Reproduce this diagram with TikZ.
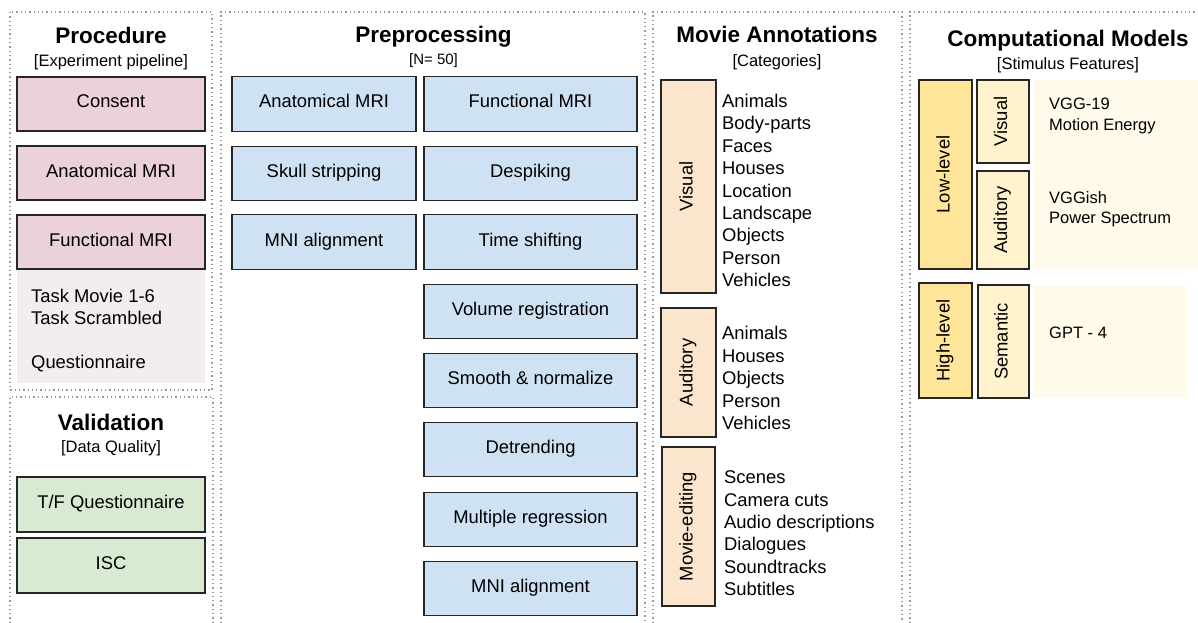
\documentclass[tikz,border=0pt]{standalone}
\usepackage{fontspec}
\setmainfont{Liberation Sans}
\definecolor{pinkbox}{HTML}{EAD1DC}
\definecolor{pinkbg}{HTML}{F3EDEF}
\definecolor{bluebox}{HTML}{CFE2F3}
\definecolor{greenbox}{HTML}{D9EAD3}
\definecolor{peachbox}{HTML}{FCE5CD}
\definecolor{yellowdark}{HTML}{FFE599}
\definecolor{yellowlight}{HTML}{FFF2CC}
\definecolor{yellowbg}{HTML}{FFFAEA}
\definecolor{dotgray}{HTML}{9A9A9A}
\begin{document}
\begin{tikzpicture}[x=1pt,y=-1pt,
  panel/.style={draw=dotgray, line width=1.3pt, dash pattern=on 1.3pt off 3pt},
  box/.style={draw=black!85, line width=1.1pt, inner sep=0pt, text height=13.5pt, text depth=5.5pt, font=\fontsize{18.4}{22}\selectfont},
  pbox/.style={box, fill=pinkbox, minimum width=188, minimum height=54},
  gbox/.style={box, fill=greenbox, minimum width=188, minimum height=55},
  blbox/.style={box, fill=bluebox, minimum width=184, minimum height=54.5},
  brbox/.style={box, fill=bluebox, minimum width=213, minimum height=54.5},
  mbox/.style={box, fill=peachbox, rotate=90, minimum height=55},
  lowbox/.style={box, fill=yellowdark, rotate=90, minimum height=53},
  subbox/.style={box, fill=yellowlight, rotate=90, minimum height=52},
  bg/.style={inner sep=0pt, draw=none},
  title/.style={font=\fontsize{22.5}{26}\selectfont\bfseries, anchor=base, inner sep=0pt},
  subtitle/.style={font=\fontsize{16.5}{20}\selectfont, anchor=base, inner sep=0pt},
  item/.style={font=\fontsize{18.4}{22}\selectfont, anchor=base west, inner sep=0pt},
  citem/.style={font=\fontsize{16.5}{20}\selectfont, anchor=base west, inner sep=0pt}
]
\useasboundingbox (0,0) rectangle (1198,623);

% ---------- panels ----------
\draw[panel] (10,12) rectangle (212,390);
\draw[panel] (10,623) -- (10,397) -- (213,397) -- (213,623);
\draw[panel] (221,623) -- (221,12) -- (645,12) -- (645,623);
\draw[panel] (653,623) -- (653,12) -- (902,12) -- (902,623);
\draw[panel] (910,623) -- (910,12) -- (1198,12);

% ---------- Procedure ----------
\node[title] (proct) at (111,44) {Procedure};
\node[subtitle] (procs) at (111,67) {[Experiment pipeline]};
\node[bg, fill=pinkbg, minimum width=188, minimum height=114] (procbg) at (111,326) {};
\node[pbox] (consent) at (111,104) {Consent};
\node[pbox] (panat) at (111,173) {Anatomical MRI};
\node[pbox] (pfunc) at (111,242) {Functional MRI};
\node[item] (task1) at (31,302) {Task Movie 1-6};
\node[item] (task2) at (31,324) {Task Scrambled};
\node[item] (quest) at (31,368) {Questionnaire};

% ---------- Validation ----------
\node[title] (valt) at (111,430) {Validation};
\node[subtitle] (vals) at (111,452) {[Data Quality]};
\node[gbox] (tfq) at (111,504.5) {T/F Questionnaire};
\node[gbox] (isc) at (111,565.5) {ISC};

% ---------- Preprocessing ----------
\node[title] (pret) at (433.5,43) {Preprocessing};
\node[subtitle, font=\fontsize{15}{18}\selectfont] (pres) at (433.5,65) {[N= 50]};
\node[blbox] (anat) at (324,104) {Anatomical MRI};
\node[blbox] (skull) at (324,173.5) {Skull stripping};
\node[blbox] (mnia) at (324,242) {MNI alignment};
\node[brbox] (func) at (530.5,104) {Functional MRI};
\node[brbox] (desp) at (530.5,173.5) {Despiking};
\node[brbox] (tshift) at (530.5,242) {Time shifting};
\node[brbox] (volreg) at (530.5,311.5) {Volume registration};
\node[brbox] (smooth) at (530.5,380.5) {Smooth \& normalize};
\node[brbox] (detr) at (530.5,449.5) {Detrending};
\node[brbox] (mreg) at (530.5,519.5) {Multiple regression};
\node[brbox] (mnif) at (530.5,588.5) {MNI alignment};

% ---------- Movie Annotations ----------
\node[title] (movt) at (777,43) {Movie Annotations};
\node[subtitle] (movs) at (777,67) {[Categories]};
\node[mbox, minimum width=213] (mvis) at (688.5,186.5) {Visual};
\node[mbox, minimum width=129] (maud) at (688.5,372.5) {Auditory};
\node[mbox, minimum width=159, minimum height=53] (medit) at (688.5,526.5) {Movie-editing};
\foreach \t [count=\i] in {Animals,Body-parts,Faces,Houses,Location,Landscape,Objects,Person,Vehicles}
  \node[item] (mv\i) at (722,{107.6+22.375*(\i-1)}) {\t};
\foreach \t [count=\i] in {Animals,Houses,Objects,Person,Vehicles}
  \node[item] (ma\i) at (722,{339.6+22.5*(\i-1)}) {\t};
\foreach \t [count=\i] in {Scenes,Camera cuts,Audio descriptions,Dialogues,Soundtracks,Subtitles}
  \node[item] (me\i) at (724,{483.6+22.4*(\i-1)}) {\t};

% ---------- Computational Models ----------
\node[title] (cmt) at (1068,47) {Computational Models};
\node[subtitle] (cms) at (1068,70) {[Stimulus Features]};
\node[bg, fill=yellowbg, minimum width=165, minimum height=189] (cbg1) at (1115.5,174.5) {};
\node[bg, fill=yellowbg, minimum width=154, minimum height=112] (cbg2) at (1110,342) {};
\node[lowbox, minimum width=189] (low) at (945.5,174.5) {Low-level};
\node[subbox, minimum width=83] (cvis) at (1003,121.5) {Visual};
\node[subbox, minimum width=98] (caud) at (1003,220) {Auditory};
\node[lowbox, minimum width=115] (high) at (945.5,340.5) {High-level};
\node[subbox, minimum width=113, minimum height=51] (csem) at (1003.5,341.5) {Semantic};
\node[citem] (vgg) at (1049,110) {VGG-19};
\node[citem] (motion) at (1049,130) {Motion Energy};
\node[citem] (vggish) at (1049,203) {VGGish};
\node[citem] (power) at (1049,223) {Power Spectrum};
\node[citem] (gpt) at (1049,338) {GPT - 4};
\end{tikzpicture}
\end{document}
